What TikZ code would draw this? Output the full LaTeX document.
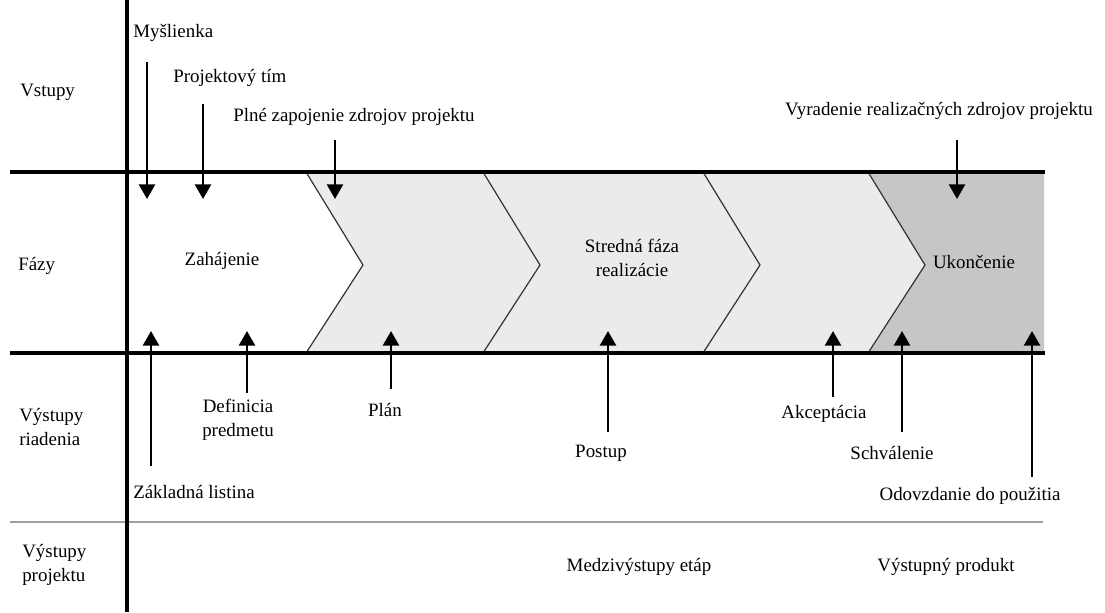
\documentclass[tikz,border=0pt]{standalone}
\usepackage{fontspec}
\setmainfont{Liberation Serif}
\usetikzlibrary{arrows.meta}
\definecolor{lightfill}{HTML}{EBEBEB}
\definecolor{darkfill}{HTML}{C6C6C6}
\definecolor{rulegray}{HTML}{A0A0A0}
\begin{document}
\begin{tikzpicture}[x=0.75pt,y=-0.75pt,
  lbl/.style={font=\fontsize{14.2}{18}\selectfont, inner sep=0pt, align=center},
  rule/.style={line width=2.4pt},
  arr/.style={line width=2pt, -{Triangle[width=12pt,length=11pt]}},
  chev/.style={line width=0.9pt, draw=black!80}]
\useasboundingbox (0,0) rectangle (1105,612);

% phase band fills
\fill[lightfill] (306,172) -- (868,172) -- (925,265) -- (868,353) -- (306,353) -- (363,265) -- cycle;
\fill[darkfill] (868,172) -- (1044,172) -- (1044,353) -- (868,353) -- (925,265) -- cycle;

% chevron edges
\foreach \cx in {306,483,703,868}
  \draw[chev] (\cx,172) -- (\cx+57,265) -- (\cx,353);

% grid lines
\draw[rule] (10,172) -- (1045,172);
\draw[rule] (10,353) -- (1045,353);
\draw[line width=2.2pt, rulegray] (10,522) -- (1043,522);
\draw[rule] (127,0) -- (127,612);

% row headings
\node[lbl, anchor=west] (hIn) at (20,92) {Vstupy};
\node[lbl, anchor=west] (hPh) at (18,266) {Fázy};
\node[lbl, anchor=west, align=left] (hMg) at (19,427) {Výstupy\\riadenia};
\node[lbl, anchor=west, align=left] (hPr) at (22,565) {Výstupy\\projektu};

% phase names
\node[lbl] (pStart) at (222,261) {Zahájenie};
\node[lbl] (pMid) at (632,258) {Stredná fáza\\realizácie};
\node[lbl] (pEnd) at (974,262) {Ukončenie};

% inputs
\node[lbl, anchor=west] (iIdea) at (133,33) {Myšlienka};
\node[lbl, anchor=west] (iTeam) at (173,78) {Projektový tím};
\node[lbl, anchor=west] (iFull) at (233,117) {Plné zapojenie zdrojov projektu};
\node[lbl] (iRel) at (939,111) {Vyradenie realizačných zdrojov projektu};

\coordinate (dIdeaA) at (147,62);  \coordinate (dIdeaB) at (147,199);
\coordinate (dTeamA) at (203,104); \coordinate (dTeamB) at (203,199);
\coordinate (dFullA) at (335,140); \coordinate (dFullB) at (335,199);
\coordinate (dRelA) at (957,140);  \coordinate (dRelB) at (957,199);
\draw[arr] (dIdeaA) -- (dIdeaB);
\draw[arr] (dTeamA) -- (dTeamB);
\draw[arr] (dFullA) -- (dFullB);
\draw[arr] (dRelA) -- (dRelB);

% management outputs
\node[lbl, anchor=west] (oCharter) at (133,492) {Základná listina};
\node[lbl] (oScope) at (238,420) {Definicia\\predmetu};
\node[lbl] (oPlan) at (385,410) {Plán};
\node[lbl] (oProc) at (601,453) {Postup};
\node[lbl] (oAcc) at (824,414) {Akceptácia};
\node[lbl] (oAppr) at (892,453) {Schválenie};
\node[lbl] (oHand) at (970,496) {Odovzdanie do použitia};

\coordinate (uChA) at (151,466);  \coordinate (uChB) at (151,331);
\coordinate (uScA) at (247,393);  \coordinate (uScB) at (247,331);
\coordinate (uPlA) at (391,389);  \coordinate (uPlB) at (391,331);
\coordinate (uPrA) at (608,432);  \coordinate (uPrB) at (608,331);
\coordinate (uAcA) at (833,397);  \coordinate (uAcB) at (833,331);
\coordinate (uApA) at (902,432);  \coordinate (uApB) at (902,331);
\coordinate (uHaA) at (1032,477); \coordinate (uHaB) at (1032,331);
\draw[arr] (uChA) -- (uChB);
\draw[arr] (uScA) -- (uScB);
\draw[arr] (uPlA) -- (uPlB);
\draw[arr] (uPrA) -- (uPrB);
\draw[arr] (uAcA) -- (uAcB);
\draw[arr] (uApA) -- (uApB);
\draw[arr] (uHaA) -- (uHaB);

% project outputs
\node[lbl] (rMid) at (639,567) {Medzivýstupy etáp};
\node[lbl] (rFin) at (946,567) {Výstupný produkt};
\end{tikzpicture}
\end{document}
